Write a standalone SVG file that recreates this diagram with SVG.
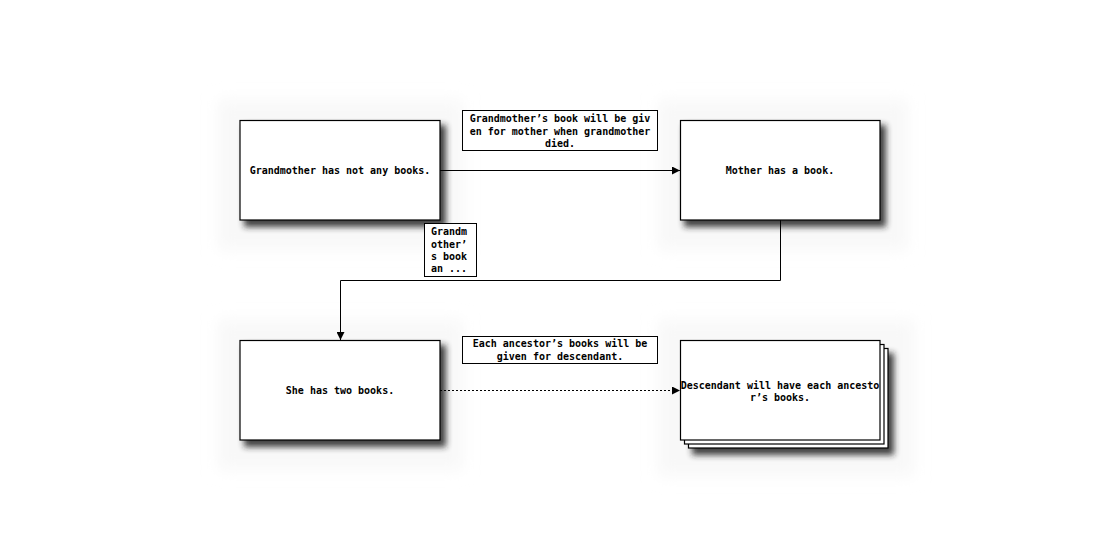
<svg xmlns="http://www.w3.org/2000/svg" width="1120" height="560" viewBox="0 0 1120 560">
<defs>
<filter id="halo" x="-20%" y="-20%" width="140%" height="140%"><feGaussianBlur stdDeviation="8"/></filter>
<filter id="shadow" x="-10%" y="-10%" width="130%" height="140%"><feGaussianBlur stdDeviation="3"/></filter>
<marker id="arrow" viewBox="0 0 10 10" refX="10" refY="5" markerWidth="8" markerHeight="8" markerUnits="userSpaceOnUse" orient="auto"><path d="M0,0 L10,5 L0,10 Z" fill="#000"/></marker>
</defs>
<style>
.halo{fill:#f8f8f8;filter:url(#halo)}
.shadow{fill:#222;opacity:0.85;filter:url(#shadow)}
.box{fill:#fff;stroke:#000;stroke-width:1.2}
.t{font-family:"DejaVu Sans Mono","Liberation Mono",monospace;font-size:10px;font-weight:bold;fill:#000}
.c{text-anchor:middle}
.edge{fill:none;stroke:#000;stroke-width:1}
.lbl{fill:#fff;stroke:#000;stroke-width:1}
</style>
<rect width="1120" height="560" fill="#fff"/>
<g id="halos">
<rect class="halo" x="218" y="100" width="245" height="150"/>
<rect class="halo" x="658" y="100" width="250" height="150"/>
<rect class="halo" x="218" y="320" width="245" height="150"/>
<rect class="halo" x="658" y="320" width="256" height="156"/>
</g>
<g id="node-grandmother">
<rect class="shadow" x="244" y="125" width="202" height="102"/>
<rect class="box" x="240" y="120.5" width="200" height="99.5"/>
<text class="t c" x="340" y="174">Grandmother has not any books.</text>
</g>
<g id="node-mother">
<rect class="shadow" x="684" y="125" width="202" height="102"/>
<rect class="box" x="680.5" y="120.5" width="199.5" height="99.5"/>
<text class="t c" x="780" y="174">Mother has a book.</text>
</g>
<g id="node-she">
<rect class="shadow" x="244" y="345" width="202" height="102"/>
<rect class="box" x="240" y="340.5" width="200" height="99.5"/>
<text class="t c" x="340" y="394">She has two books.</text>
</g>
<g id="node-descendant">
<rect class="shadow" x="692" y="353" width="202" height="102"/>
<rect class="box" x="688.5" y="348.5" width="199.5" height="99.5"/>
<rect class="box" x="684.5" y="344.5" width="199.5" height="99.5"/>
<rect class="box" x="680.5" y="340.5" width="199.5" height="99.5"/>
<text class="t c" x="780" y="389">Descendant will have each ancesto</text>
<text class="t c" x="780" y="401">r’s books.</text>
</g>
<g id="connectors">
<path class="edge" d="M440,170.5 H680" marker-end="url(#arrow)"/>
<path class="edge" d="M780.5,220 V280.5 H340.5 V340" marker-end="url(#arrow)"/>
<path class="edge" d="M440,390.5 H680" stroke-dasharray="2,2" marker-end="url(#arrow)"/>
</g>
<g id="label-given">
<rect class="lbl" x="462.5" y="110.5" width="195" height="40"/>
<text class="t c" x="560" y="122">Grandmother’s book will be giv</text>
<text class="t c" x="560" y="135">en for mother when grandmother</text>
<text class="t c" x="560" y="147">died.</text>
</g>
<g id="label-short">
<rect class="lbl" x="424.5" y="223.5" width="52" height="53"/>
<text class="t" x="431" y="235">Grandm</text>
<text class="t" x="431" y="248">other’</text>
<text class="t" x="431" y="260">s book</text>
<text class="t" x="431" y="272">an ...</text>
</g>
<g id="label-each">
<rect class="lbl" x="462.5" y="336.5" width="195" height="27"/>
<text class="t c" x="560" y="347">Each ancestor’s books will be</text>
<text class="t c" x="560" y="360">given for descendant.</text>
</g>
</svg>
